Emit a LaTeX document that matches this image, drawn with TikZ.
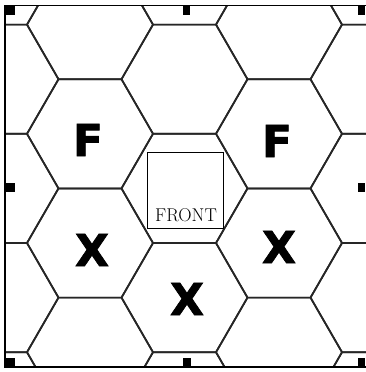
\documentclass[tikz,border=0pt]{standalone}
\usepackage{fontspec}
\newfontfamily\heavy[FakeBold=1.8]{DejaVu Sans Bold}
\begin{document}
\begin{tikzpicture}[x=1pt,y=-1pt,
  hexline/.style={line width=1.7pt, line join=round, black!85},
  frameline/.style={line width=1.2pt},
  tick/.style={fill=black},
  bigletter/.style={font=\heavy\fontsize{44}{44}\selectfont, inner sep=0pt},
  frontbox/.style={draw, line width=0.9pt, minimum width=76pt, minimum height=76pt, inner sep=0pt},
  fronttext/.style={font=\fontsize{18.5}{18.5}\selectfont, inner sep=0pt, anchor=base}]
\useasboundingbox (0,0) rectangle (365,372);
\fill[white] (0,0) rectangle (365,372);
\begin{scope}
  \clip (5,5.5) rectangle (366,367);
  \foreach \k in {-1,...,3} {
    \pgfmathsetmacro\cx{90+94.5*\k}
    \pgfmathsetmacro\off{isodd(\k+2) ? 79.2 : 24.6}
    \foreach \j in {-1,...,3} {
      \pgfmathsetmacro\cy{\off+109.2*\j}
      \draw[hexline] (\cx-63,\cy) -- (\cx-31.5,\cy-54.6) -- (\cx+31.5,\cy-54.6) -- (\cx+63,\cy) -- (\cx+31.5,\cy+54.6) -- (\cx-31.5,\cy+54.6) -- cycle;
    }
  }
\end{scope}
% frame
\draw[frameline] (366,5.5) -- (5,5.5) -- (5,367) -- (366,367);
% ticks
\fill[tick] (5,6) rectangle (15,15);
\fill[tick] (183,6) rectangle (190,15);
\fill[tick] (358,6) rectangle (365,15);
\fill[tick] (5,183) rectangle (15,192);
\fill[tick] (358,183) rectangle (365,192);
\fill[tick] (5,358) rectangle (15,367);
\fill[tick] (183,358) rectangle (191,367);
\fill[tick] (358,358) rectangle (365,367);
% front box
\node[frontbox] (front) at (185,190) {};
\node[fronttext] (fronttxt) at (186,221.5) {FRONT};
% letters
\node[bigletter] (f1) at (88,140) {F};
\node[bigletter] (f2) at (277,141) {F};
\node[bigletter] (x1) at (92,250) {X};
\node[bigletter] (x2) at (279,247) {X};
\node[bigletter] (x3) at (187,299) {X};
\end{tikzpicture}
\end{document}
